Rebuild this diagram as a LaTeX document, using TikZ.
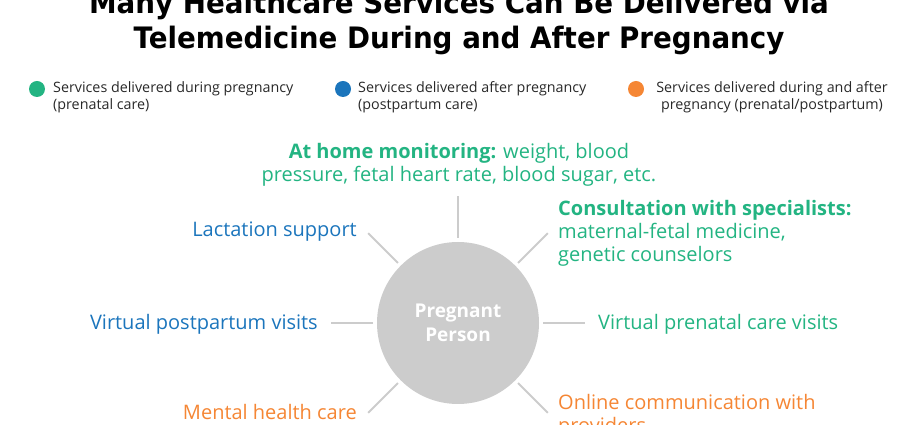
\documentclass[tikz,border=0pt]{standalone}
\usepackage{fontspec}
\setmainfont{Open Sans}
\newfontfamily\titlefont[FakeStretch=0.94]{DejaVu Sans}
\usetikzlibrary{positioning}

\definecolor{prenatal}{RGB}{35,180,130}
\definecolor{postpartum}{RGB}{27,117,188}
\definecolor{bothcare}{RGB}{245,134,52}
\definecolor{hubgray}{RGB}{204,204,204}
\definecolor{legendink}{RGB}{40,40,40}

\tikzset{
  heading/.style={anchor=base, inner sep=0pt, font=\titlefont\bfseries\fontsize{29.5}{35}\selectfont},
  service/.style={inner sep=0pt, font=\fontsize{20}{23}\selectfont},
  legendtext/.style={inner sep=0pt, text=legendink, font=\fontsize{14.3}{17}\selectfont},
  legenddot/.style={circle, inner sep=0pt, minimum size=16pt},
  spoke/.style={draw=hubgray, line width=2pt},
}

\begin{document}
\begin{tikzpicture}[x=1pt,y=1pt]
  \useasboundingbox (0,0) rectangle (920,425);
  \clip (0,0) rectangle (920,425);

  % title
  \node (title1) [heading] at (459,411) {Many Healthcare Services Can Be Delivered via};
  \node (title2) [heading] at (459,376) {Telemedicine During and After Pregnancy};

  % legend
  \node (dotpre)  [legenddot, fill=prenatal]   at (37,336)  {};
  \node (dotpost) [legenddot, fill=postpartum] at (343,336) {};
  \node (dotboth) [legenddot, fill=bothcare]   at (636,336) {};
  \node (legpre)  [legendtext, anchor=base west, align=left] at (53,315)
    {Services delivered during pregnancy\\(prenatal care)};
  \node (legpost) [legendtext, anchor=base west, align=left] at (358,315)
    {Services delivered after pregnancy\\(postpartum care)};
  \node (legboth) [legendtext, anchor=base, align=center] at (772,315)
    {Services delivered during and after\\pregnancy (prenatal/postpartum)};

  % hub
  \node (person) [circle, fill=hubgray, minimum size=162pt, inner sep=0pt,
                  text=white, align=center,
                  font=\bfseries\fontsize{19}{24}\selectfont] at (458,102)
    {Pregnant\\Person};

  \foreach \a in {0,45,90,135,180,225,315} {
    \path (person.center) ++(\a:85) coordinate (in\a) ++(\a:42) coordinate (out\a);
    \draw[spoke] (in\a) -- (out\a);
  }

  % services
  \node (monitor) [service, text=prenatal, anchor=base, align=center] at (459,243)
    {\textbf{At home monitoring:} weight, blood\\pressure, fetal heart rate, blood sugar, etc.};
  \node (consult) [service, text=prenatal, anchor=base west, align=left] at (558,163)
    {\textbf{Consultation with specialists:}\\maternal-fetal medicine,\\genetic counselors};
  \node (previsit) [service, text=prenatal, anchor=base west] at (598,95)
    {Virtual prenatal care visits};
  \node (online) [service, text=bothcare, anchor=base west, align=left] at (558,-8)
    {Online communication with\\providers};
  \node (mental) [service, text=bothcare, anchor=base east] at (357,5)
    {Mental health care};
  \node (postvisit) [service, text=postpartum, anchor=base east] at (318,95)
    {Virtual postpartum visits};
  \node (lactation) [service, text=postpartum, anchor=base east] at (357,188)
    {Lactation support};
\end{tikzpicture}
\end{document}
